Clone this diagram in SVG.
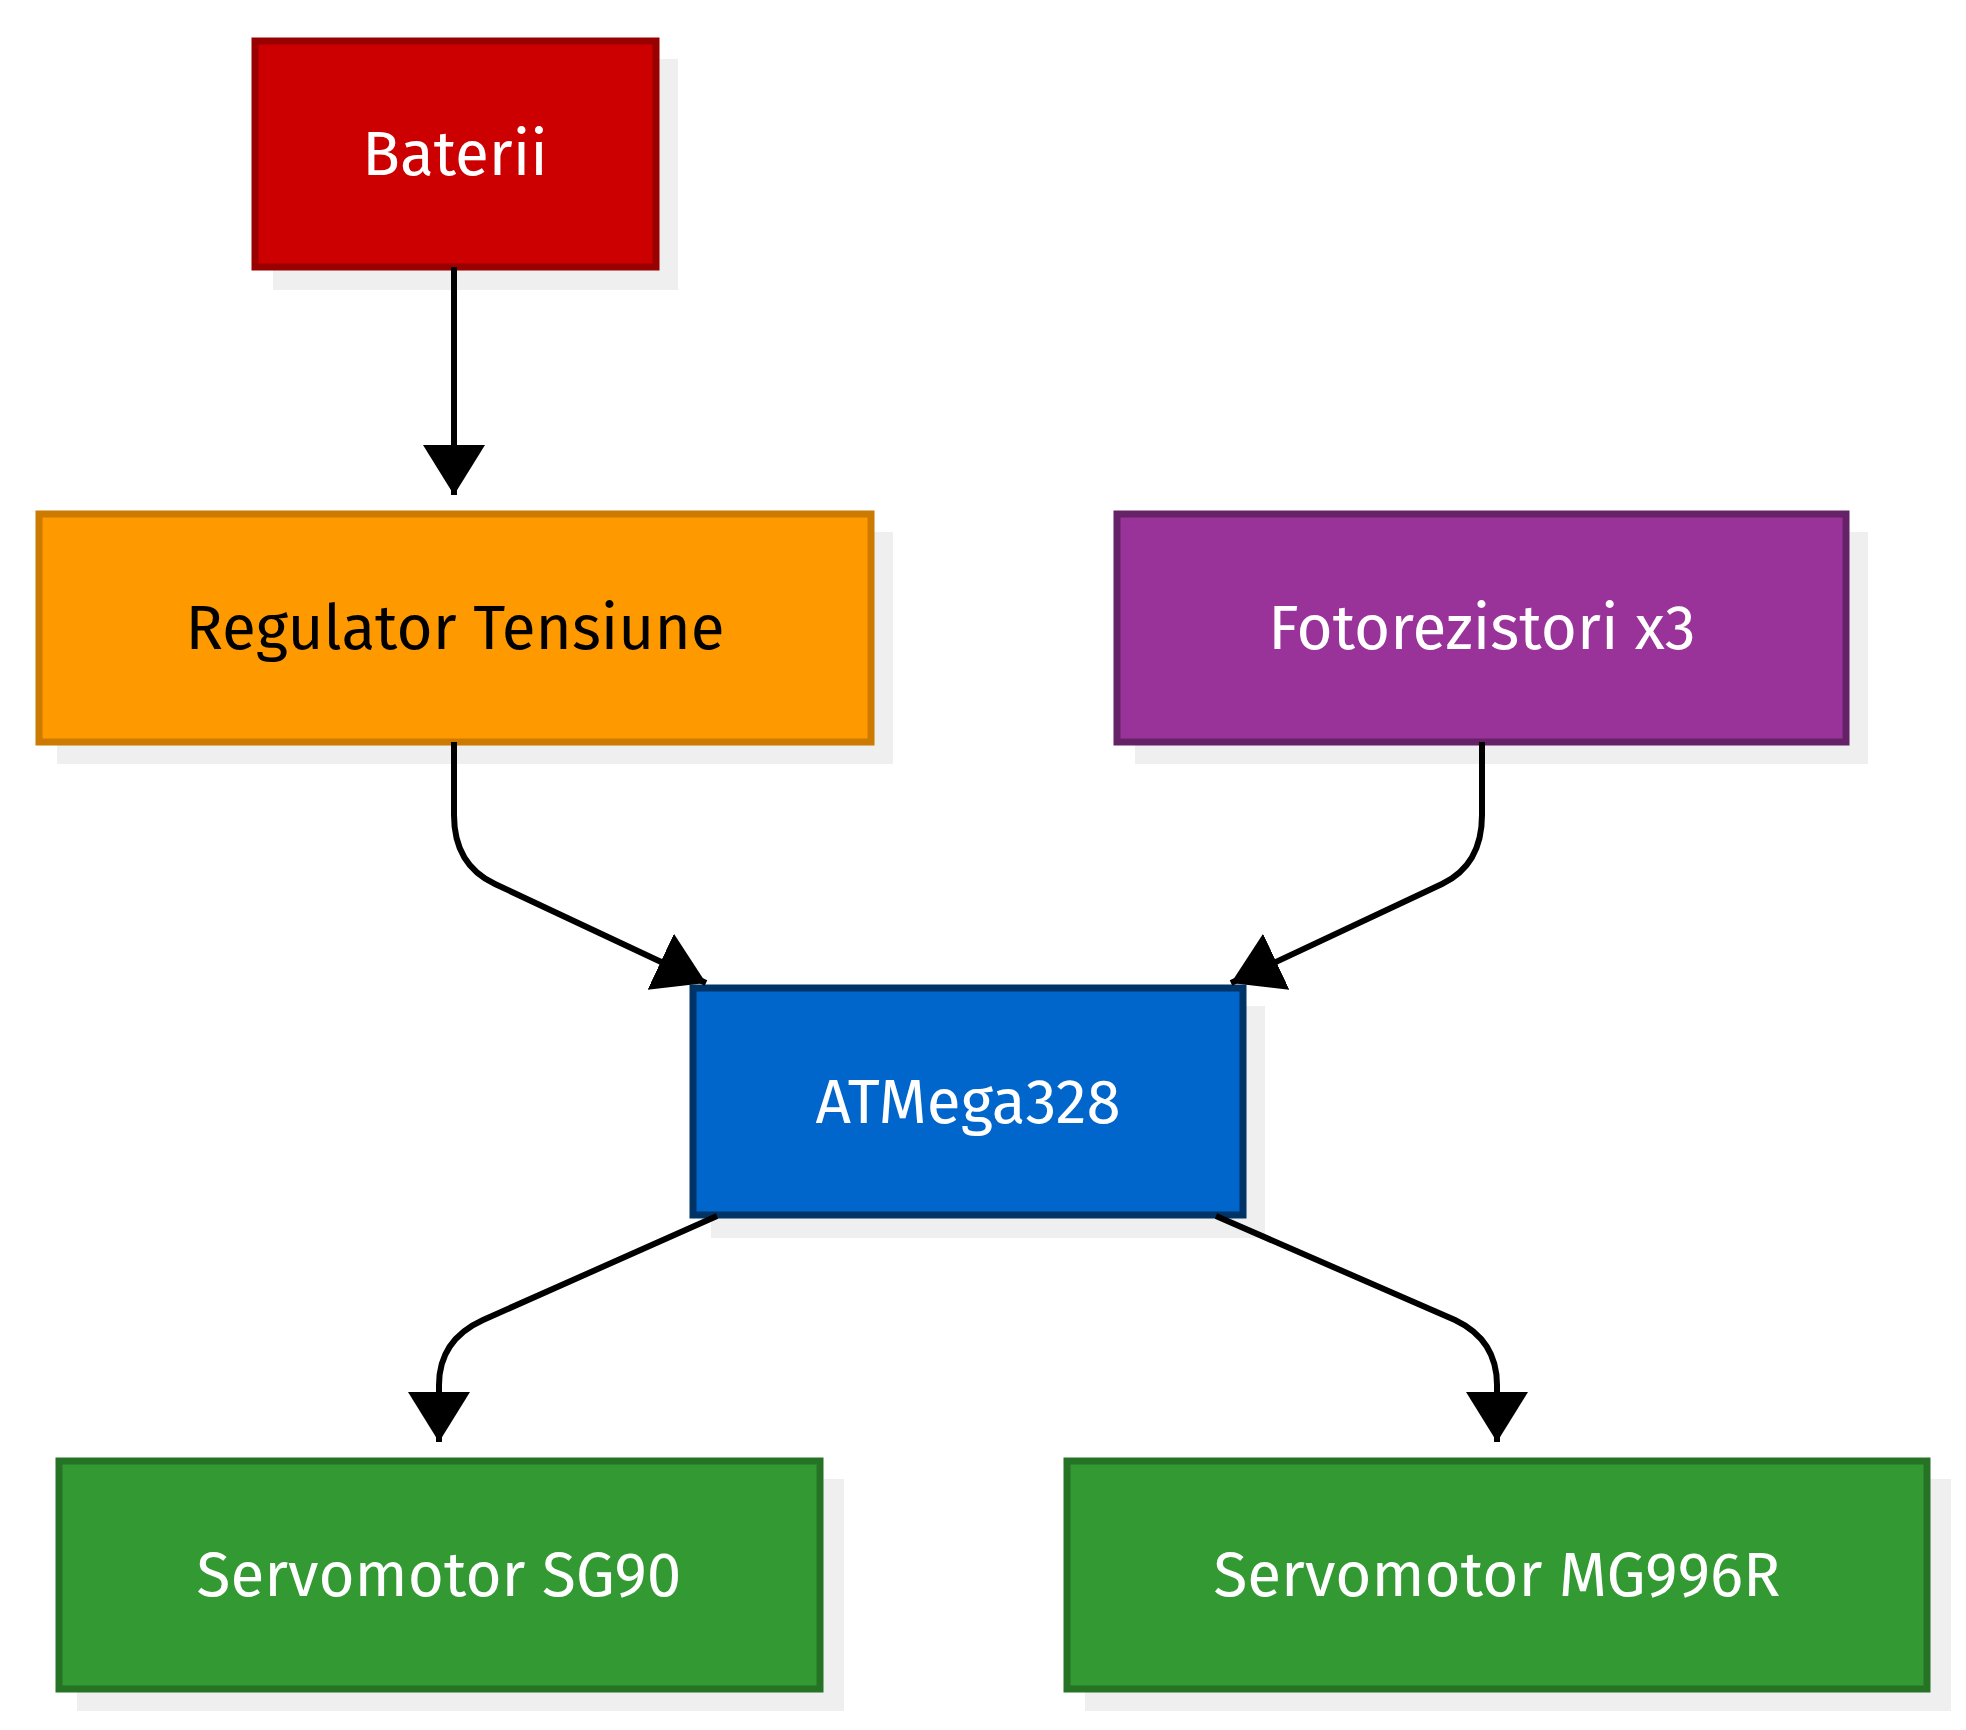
<svg xmlns="http://www.w3.org/2000/svg" width="1966" height="1730" viewBox="0 0 1966 1730">
<style>
.sh{fill:#efefef}
.bx{stroke-width:7}
.t{font-family:"Fira Sans","Noto Sans","Open Sans",sans-serif;font-size:62px;text-anchor:middle;dominant-baseline:central;fill:#fff}
.e{fill:none;stroke:#000;stroke-width:6;marker-end:url(#ah)}
</style>
<defs>
<marker id="ah" markerUnits="userSpaceOnUse" markerWidth="52" markerHeight="64" refX="50" refY="31" orient="auto"><path d="M0,0 L50,31 L0,62 z" fill="#000"/></marker>
</defs>
<rect width="1966" height="1730" fill="#fff"/>
<g id="n-baterii"><rect class="sh" x="273" y="59" width="405" height="231"/><rect class="bx" x="255" y="41" width="401" height="226" fill="#cc0000" stroke="#990000"/><text class="t" x="455" y="154">Baterii</text></g>
<g id="n-regulator"><rect class="sh" x="57" y="532" width="836" height="232"/><rect class="bx" x="39" y="514" width="832" height="228" fill="#ff9900" stroke="#cc7a00"/><text class="t" x="455" y="628" fill="#000" style="fill:#000">Regulator Tensiune</text></g>
<g id="n-foto"><rect class="sh" x="1135" y="532" width="733" height="232"/><rect class="bx" x="1117" y="514" width="729" height="228" fill="#993399" stroke="#662266"/><text class="t" x="1482" y="628">Fotorezistori x3</text></g>
<g id="n-atmega"><rect class="sh" x="711" y="1006" width="554" height="232"/><rect class="bx" x="693" y="988" width="550" height="227" fill="#0066cc" stroke="#003366"/><text class="t" x="968" y="1102">ATMega328</text></g>
<g id="n-sg90"><rect class="sh" x="77" y="1479" width="767" height="232"/><rect class="bx" x="59" y="1461" width="761" height="228" fill="#339933" stroke="#267326"/><text class="t" x="439" y="1575">Servomotor SG90</text></g>
<g id="n-mg996r"><rect class="sh" x="1085" y="1479" width="866" height="232"/><rect class="bx" x="1067" y="1461" width="860" height="228" fill="#339933" stroke="#267326"/><text class="t" x="1497" y="1575">Servomotor MG996R</text></g>
<g id="edges">
<path class="e" d="M454,267 L454,495"/>
<path class="e" d="M454,742 L454,815 Q454,865 495,884 L706,983"/>
<path class="e" d="M1482,742 L1482,815 Q1482,865 1442,884 L1231,983"/>
<path class="e" d="M717,1216 L483,1320 Q439,1340 439,1385 L439,1442"/>
<path class="e" d="M1216,1216 L1455,1320 Q1497,1340 1497,1385 L1497,1442"/>
</g>
</svg>
